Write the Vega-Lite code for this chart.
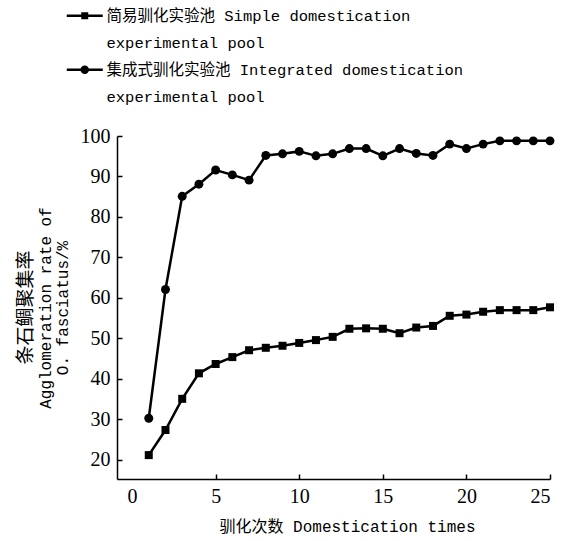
{
  "$schema": "https://vega.github.io/schema/vega-lite/v6.json",
  "width": 433,
  "height": 343,
  "autosize": {"type": "none"},
  "padding": {"left": 117, "top": 136, "right": 18, "bottom": 62},
  "background": "white",
  "title": {
    "text": "条石鲷聚集率",
    "orient": "left",
    "anchor": "middle",
    "font": "Noto Sans CJK SC",
    "fontSize": 19,
    "fontWeight": "normal",
    "color": "black",
    "offset": 1
  },
  "config": {
    "view": {"stroke": null},
    "axis": {
      "domainColor": "black",
      "domainWidth": 1.5,
      "tickColor": "black",
      "tickWidth": 1.5,
      "tickSize": -5,
      "grid": false,
      "labelFont": "Liberation Serif",
      "labelFontSize": 20,
      "labelColor": "black",
      "titleFont": "Liberation Mono, Noto Sans CJK SC",
      "titleFontSize": 16,
      "titleFontWeight": "normal",
      "titleColor": "black"
    },
    "legend": {
      "symbolStrokeColor": "black",
      "symbolFillColor": "black",
      "symbolStrokeWidth": 0,
      "symbolOpacity": 1
    }
  },
  "data": {
    "values": [
      {"t": 1, "series": "simple", "v": 21.2},
      {"t": 2, "series": "simple", "v": 27.4},
      {"t": 3, "series": "simple", "v": 35.1},
      {"t": 4, "series": "simple", "v": 41.4},
      {"t": 5, "series": "simple", "v": 43.7},
      {"t": 6, "series": "simple", "v": 45.4},
      {"t": 7, "series": "simple", "v": 47.1},
      {"t": 8, "series": "simple", "v": 47.7},
      {"t": 9, "series": "simple", "v": 48.2},
      {"t": 10, "series": "simple", "v": 48.9},
      {"t": 11, "series": "simple", "v": 49.6},
      {"t": 12, "series": "simple", "v": 50.4},
      {"t": 13, "series": "simple", "v": 52.4},
      {"t": 14, "series": "simple", "v": 52.5},
      {"t": 15, "series": "simple", "v": 52.4},
      {"t": 16, "series": "simple", "v": 51.3},
      {"t": 17, "series": "simple", "v": 52.7},
      {"t": 18, "series": "simple", "v": 53.1},
      {"t": 19, "series": "simple", "v": 55.6},
      {"t": 20, "series": "simple", "v": 55.9},
      {"t": 21, "series": "simple", "v": 56.6},
      {"t": 22, "series": "simple", "v": 57.0},
      {"t": 23, "series": "simple", "v": 57.0},
      {"t": 24, "series": "simple", "v": 57.0},
      {"t": 25, "series": "simple", "v": 57.7},
      {"t": 1, "series": "integrated", "v": 30.3},
      {"t": 2, "series": "integrated", "v": 62.1},
      {"t": 3, "series": "integrated", "v": 85.1},
      {"t": 4, "series": "integrated", "v": 88.1},
      {"t": 5, "series": "integrated", "v": 91.6},
      {"t": 6, "series": "integrated", "v": 90.4},
      {"t": 7, "series": "integrated", "v": 89.1},
      {"t": 8, "series": "integrated", "v": 95.2},
      {"t": 9, "series": "integrated", "v": 95.6},
      {"t": 10, "series": "integrated", "v": 96.2},
      {"t": 11, "series": "integrated", "v": 95.1},
      {"t": 12, "series": "integrated", "v": 95.6},
      {"t": 13, "series": "integrated", "v": 96.9},
      {"t": 14, "series": "integrated", "v": 96.9},
      {"t": 15, "series": "integrated", "v": 95.1},
      {"t": 16, "series": "integrated", "v": 96.9},
      {"t": 17, "series": "integrated", "v": 95.7},
      {"t": 18, "series": "integrated", "v": 95.2},
      {"t": 19, "series": "integrated", "v": 98.0},
      {"t": 20, "series": "integrated", "v": 96.9},
      {"t": 21, "series": "integrated", "v": 98.0},
      {"t": 22, "series": "integrated", "v": 98.8},
      {"t": 23, "series": "integrated", "v": 98.8},
      {"t": 24, "series": "integrated", "v": 98.8},
      {"t": 25, "series": "integrated", "v": 98.8}
    ]
  },
  "encoding": {
    "x": {
      "field": "t",
      "type": "quantitative",
      "scale": {"domain": [-0.9, 25], "nice": false, "zero": false},
      "axis": {
        "values": [0, 5, 10, 15, 20, 25],
        "title": "驯化次数 Domestication times",
        "labelPadding": 12,
        "titlePadding": 12,
        "titleX": 230,
        "tickOpacity": {"condition": {"test": "datum.value == 0", "value": 0}, "value": 1}
      }
    },
    "y": {
      "field": "v",
      "type": "quantitative",
      "scale": {"domain": [15.3, 100], "nice": false, "zero": false},
      "axis": {
        "values": [20, 30, 40, 50, 60, 70, 80, 90, 100],
        "title": ["Agglomeration rate of", "O. fasciatus/%"],
        "titleLineHeight": 17,
        "labelPadding": 12,
        "titlePadding": 10
      }
    }
  },
  "layer": [
    {
      "mark": {"type": "line", "color": "black", "strokeWidth": 2.5},
      "encoding": {"detail": {"field": "series"}}
    },
    {
      "transform": [{"filter": "datum.series == 'simple'"}],
      "mark": {"type": "point", "shape": "square", "filled": true, "color": "black", "size": 64, "opacity": 1}
    },
    {
      "transform": [{"filter": "datum.series == 'integrated'"}],
      "mark": {"type": "point", "shape": "circle", "filled": true, "color": "black", "size": 80, "opacity": 1}
    },
    {
      "transform": [{"filter": "false"}],
      "mark": {"type": "point", "filled": true, "color": "black", "opacity": 1},
      "encoding": {
        "x": null,
        "y": null,
        "shape": {
          "field": "series",
          "type": "nominal",
          "scale": {
            "domain": ["s1", "s2", "i1", "i2"],
            "range": [
              "M-3.6,-0.25H-0.7V0.25H-3.6ZM0.7,-0.25H3.6V0.25H0.7ZM-0.7,-0.7H0.7V0.7H-0.7Z",
              "M0,0",
              "M-3.6,-0.25H-0.7V0.25H-3.6ZM0.7,-0.25H3.6V0.25H0.7ZM0.85,0A0.85,0.85,0,1,1,-0.85,0A0.85,0.85,0,1,1,0.85,0Z",
              "M0,0"
            ]
          },
          "legend": {
            "orient": "none",
            "legendX": -40,
            "legendY": -128,
            "direction": "vertical",
            "title": null,
            "padding": 0,
            "symbolSize": 100,
            "symbolType": "circle",
            "labelFont": "Liberation Mono, Noto Sans CJK SC",
            "labelFontSize": 15.5,
            "labelColor": "black",
            "labelLimit": 600,
            "labelOffset": 14,
            "rowPadding": 10,
            "labelExpr": "datum.label == 's1' ? '简易驯化实验池 Simple domestication' : datum.label == 'i1' ? '集成式驯化实验池 Integrated domestication' : 'experimental pool'"
          }
        }
      }
    }
  ]
}
